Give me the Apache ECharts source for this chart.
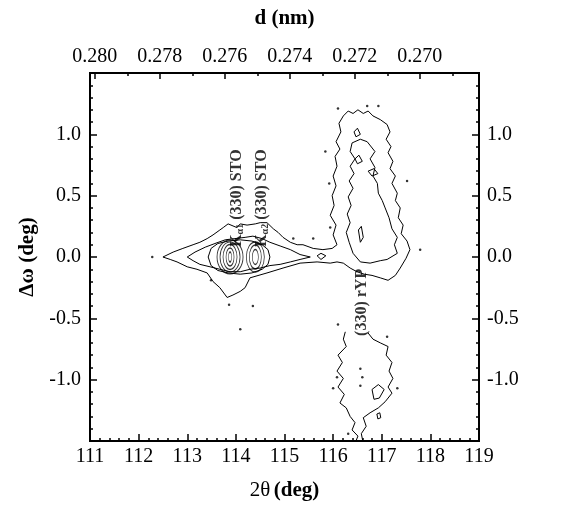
<!DOCTYPE html>
<html>
<head>
<meta charset="utf-8">
<script src="https://cdn.jsdelivr.net/npm/echarts@6/dist/echarts.min.js"></script>
<style>
  html, body { margin: 0; background: #fff; }
  #chart { width: 561px; height: 506px; }
</style>
</head>
<body>
<div id="chart"></div>
<script>
// axes
var twoThetaRange = [111, 119];
var dRange = [0.26818, 0.28015]; // top axis, runs the other way
var omegaRange = [-1.5, 1.5];
var dTicks = [0.280, 0.278, 0.276, 0.274, 0.272, 0.270];
var dMinorTicks = [0.279, 0.277, 0.275, 0.273, 0.271, 0.269];

// contour lines, [2theta, d-omega]
var outerContour = [
  [112.50, 0.00], [112.71, 0.04], [112.91, 0.07], [113.12, 0.10], [113.26, 0.12],
  [113.41, 0.15], [113.53, 0.18], [113.67, 0.22], [113.74, 0.24], [113.84, 0.27],
  [114.02, 0.24], [114.09, 0.27], [114.23, 0.26], [114.40, 0.27], [114.50, 0.28],
  [114.64, 0.28], [114.77, 0.23], [114.87, 0.20], [114.97, 0.16], [115.12, 0.12],
  [115.26, 0.10], [115.38, 0.10], [115.59, 0.07], [115.79, 0.06], [115.98, 0.07],
  [116.08, 0.10], [116.00, 0.18], [116.06, 0.26], [115.94, 0.34], [116.02, 0.42],
  [115.98, 0.50], [116.06, 0.58], [116.00, 0.66], [116.08, 0.74], [116.04, 0.82],
  [116.14, 0.88], [116.06, 0.94], [116.16, 1.02], [116.12, 1.09], [116.21, 1.15],
  [116.31, 1.19], [116.41, 1.17], [116.51, 1.20], [116.62, 1.17], [116.72, 1.19],
  [116.82, 1.15], [116.97, 1.12], [117.11, 1.08], [117.17, 1.02], [117.09, 0.96],
  [117.19, 0.90], [117.13, 0.85], [117.23, 0.78], [117.17, 0.72], [117.28, 0.66],
  [117.21, 0.60], [117.32, 0.52], [117.28, 0.46], [117.38, 0.40], [117.34, 0.32],
  [117.44, 0.26], [117.40, 0.19], [117.52, 0.13], [117.58, 0.06], [117.50, -0.01],
  [117.38, -0.09], [117.28, -0.15], [117.13, -0.19], [116.97, -0.17], [116.80, -0.15],
  [116.64, -0.14], [116.49, -0.12], [116.35, -0.09], [116.21, -0.05], [116.08, -0.04],
  [115.94, -0.05], [115.67, -0.04], [115.32, -0.05], [114.97, -0.09], [114.64, -0.13],
  [114.29, -0.17], [114.19, -0.25], [114.09, -0.28], [113.94, -0.31], [113.82, -0.33],
  [113.67, -0.25], [113.53, -0.20], [113.41, -0.13], [113.20, -0.10], [113.00, -0.08],
  [112.79, -0.04], [112.65, -0.02], [112.50, 0.00]
];
var stoLens = [
  [113.00, 0.00], [113.16, 0.04], [113.37, 0.08], [113.57, 0.11], [113.78, 0.14],
  [113.98, 0.15], [114.19, 0.16], [114.35, 0.17], [114.54, 0.15], [114.70, 0.12],
  [114.91, 0.09], [115.12, 0.06], [115.32, 0.02], [115.53, 0.00], [115.32, -0.02],
  [115.12, -0.04], [114.91, -0.06], [114.70, -0.07], [114.50, -0.09], [114.29, -0.10],
  [114.09, -0.12], [113.88, -0.12], [113.67, -0.10], [113.47, -0.08], [113.26, -0.06],
  [113.12, -0.03], [113.00, 0.00]
];
var stoEnvelope = [
  [113.43, 0.00], [113.49, 0.07], [113.63, 0.11], [113.84, 0.13], [114.09, 0.14],
  [114.33, 0.13], [114.54, 0.10], [114.66, 0.06], [114.70, 0.00], [114.66, -0.06],
  [114.54, -0.10], [114.33, -0.13], [114.09, -0.14], [113.84, -0.13], [113.63, -0.11],
  [113.49, -0.07], [113.43, 0.00]
];
var rypUpperInner = [
  [116.39, 0.93], [116.35, 0.86], [116.45, 0.80], [116.35, 0.74], [116.43, 0.68],
  [116.33, 0.62], [116.41, 0.56], [116.31, 0.49], [116.37, 0.42], [116.29, 0.35],
  [116.35, 0.28], [116.27, 0.20], [116.33, 0.12], [116.41, 0.03], [116.56, -0.04],
  [116.76, -0.05], [116.97, -0.03], [117.11, -0.02], [117.32, 0.03], [117.26, 0.10],
  [117.32, 0.16], [117.21, 0.23], [117.15, 0.32], [117.07, 0.40], [117.01, 0.46],
  [116.93, 0.52], [116.91, 0.60], [116.82, 0.66], [116.86, 0.73], [116.76, 0.80],
  [116.86, 0.86], [116.70, 0.94], [116.56, 0.96], [116.39, 0.93]
];
var rypLower = [
  [116.25, -0.61], [116.21, -0.67], [116.27, -0.73], [116.10, -0.80], [116.19, -0.86],
  [116.08, -0.93], [116.21, -0.99], [116.10, -1.06], [116.23, -1.12], [116.14, -1.19],
  [116.27, -1.23], [116.35, -1.30], [116.45, -1.35], [116.39, -1.41], [116.51, -1.46],
  [116.45, -1.52], [116.62, -1.52], [116.58, -1.44], [116.68, -1.38], [116.62, -1.31],
  [116.76, -1.27], [116.93, -1.23], [117.07, -1.18], [117.21, -1.11], [117.13, -1.06],
  [117.23, -0.99], [117.15, -0.93], [117.21, -0.86], [117.09, -0.80], [117.13, -0.73],
  [116.97, -0.70], [116.82, -0.67], [116.72, -0.62]
];
var islands = [
  [[115.67, 0.01], [115.75, 0.03], [115.85, 0.01], [115.75, -0.02], [115.67, 0.01]],
  [[116.43, 1.02], [116.50, 1.05], [116.56, 1.00], [116.47, 0.98], [116.43, 1.02]],
  [[116.45, 0.80], [116.53, 0.83], [116.60, 0.78], [116.50, 0.76], [116.45, 0.80]],
  [[116.72, 0.70], [116.84, 0.72], [116.92, 0.68], [116.80, 0.66], [116.72, 0.70]],
  [[116.52, 0.22], [116.58, 0.25], [116.62, 0.16], [116.56, 0.12], [116.52, 0.22]],
  [[116.80, -1.08], [116.93, -1.04], [117.05, -1.08], [116.95, -1.15], [116.84, -1.16], [116.80, -1.08]],
  [[116.90, -1.28], [116.96, -1.27], [116.98, -1.31], [116.92, -1.32], [116.90, -1.28]]
];
// STO K-alpha1 / K-alpha2 peak centres (closed rings drawn round them)
var peakCentres = [[113.88, 0.0], [114.40, 0.0]];
var noiseDots = [
  [112.28, 0.00], [113.86, -0.39], [114.35, -0.40], [113.49, -0.19], [115.18, 0.15],
  [115.59, 0.15], [115.92, 0.60], [116.10, 1.21], [116.70, 1.23], [116.93, 1.23],
  [115.84, 0.86], [115.94, 0.24], [117.52, 0.62], [117.79, 0.06], [116.10, -0.55],
  [117.11, -0.65], [116.08, -0.98], [116.56, -0.91], [116.60, -0.98], [116.56, -1.05],
  [117.32, -1.07], [116.00, -1.07], [116.31, -1.44], [114.09, -0.59]
];
var annotations = [
  { text: '{b|K}{s|α1}{b| (330) STO}', at: [114.02, 0.48] },
  { text: '{b|K}{s|α2}{b| (330) STO}', at: [114.54, 0.48] },
  { text: '{b|(330) rYP}', at: [116.60, -0.37] }
];

var serif = 'Liberation Serif';
var ringSizes = [[[26, 34], [20, 30], [14, 25], [8, 18], [3, 10]], [[18, 30], [12, 24], [6, 15]]];

var lineStyle = { color: '#000', width: 1 };
var series = [];
[outerContour, stoLens, stoEnvelope, rypUpperInner, rypLower].concat(islands).forEach(function (c) {
  series.push({
    type: 'line', data: c, symbol: 'none', lineStyle: lineStyle,
    silent: true, clip: true, z: 3
  });
});

var rings = [];
peakCentres.forEach(function (p, i) {
  ringSizes[i].forEach(function (s) {
    rings.push({ value: p, symbolSize: s });
  });
});
series.push({
  type: 'scatter', data: rings, symbol: 'circle', silent: true, z: 4,
  itemStyle: { color: 'rgba(0,0,0,0)', borderColor: '#000', borderWidth: 1 }
});
series.push({
  type: 'scatter', data: noiseDots, symbol: 'circle', symbolSize: 2.5, silent: true,
  itemStyle: { color: '#000' }
});
series.push({
  type: 'scatter', symbolSize: 0, silent: true, z: 5,
  data: annotations.map(function (a) { return { value: a.at, name: a.text }; }),
  label: {
    show: true, position: 'inside', rotate: 90, color: '#000',
    formatter: function (p) { return p.name; },
    rich: {
      b: { fontFamily: serif, fontWeight: 'bold', fontSize: 16, lineHeight: 17, color: '#000' },
      s: { fontFamily: serif, fontWeight: 'bold', fontSize: 10, lineHeight: 10, verticalAlign: 'bottom', color: '#000' }
    }
  }
});

var tickLabel = { fontFamily: serif, fontSize: 20, color: '#000' };
var black = { color: '#000', width: 2 };
var tickStyle = { color: '#000', width: 1.5 };

var chart = echarts.init(document.getElementById('chart'));
chart.setOption({
  animation: false,
  backgroundColor: '#fff',
  grid: { left: 90, right: 82, top: 73, bottom: 63, show: true, borderColor: '#000', borderWidth: 2 },
  xAxis: [
    {
      type: 'value', position: 'bottom', min: twoThetaRange[0], max: twoThetaRange[1], interval: 1,
      name: '{a|2θ} {b|(deg)}', nameLocation: 'middle', nameGap: 39,
      nameTextStyle: { rich: {
        a: { fontFamily: serif, fontSize: 21, color: '#000' },
        b: { fontFamily: serif, fontSize: 21, fontWeight: 'bold', color: '#000' }
      } },
      axisLine: { onZero: false, lineStyle: black },
      axisTick: { inside: true, length: 7, lineStyle: tickStyle },
      minorTick: { show: true, splitNumber: 5, length: 3, lineStyle: tickStyle },
      axisLabel: Object.assign({ margin: 6 }, tickLabel),
      splitLine: { show: false }
    },
    {
      type: 'value', position: 'top', inverse: true, min: dRange[0], max: dRange[1],
      name: 'd (nm)', nameLocation: 'middle', nameGap: 44,
      nameTextStyle: { fontFamily: serif, fontSize: 21, fontWeight: 'bold', color: '#000' },
      axisLine: { onZero: false, lineStyle: black },
      axisTick: { inside: true, length: 6, customValues: dTicks, lineStyle: tickStyle },
      axisLabel: Object.assign({
        margin: 6, customValues: dTicks,
        formatter: function (v) { return v.toFixed(3); }
      }, tickLabel),
      splitLine: { show: false }
    },
    {
      type: 'value', position: 'top', inverse: true, min: dRange[0], max: dRange[1],
      axisLine: { show: false, onZero: false },
      axisTick: { inside: true, length: 3, customValues: dMinorTicks, lineStyle: tickStyle },
      axisLabel: { show: false },
      splitLine: { show: false }
    }
  ],
  yAxis: [
    {
      type: 'value', position: 'left', min: omegaRange[0], max: omegaRange[1], interval: 0.5,
      name: 'Δω (deg)', nameLocation: 'middle', nameGap: 52,
      nameTextStyle: { fontFamily: serif, fontSize: 21, fontWeight: 'bold', color: '#000' },
      axisLine: { onZero: false, lineStyle: black },
      axisTick: { inside: true, length: 7, lineStyle: tickStyle },
      minorTick: { show: true, splitNumber: 5, length: 3, lineStyle: tickStyle },
      axisLabel: Object.assign({
        margin: 9, showMinLabel: false, showMaxLabel: false,
        formatter: function (v) { return v.toFixed(1); }
      }, tickLabel),
      splitLine: { show: false }
    },
    {
      type: 'value', position: 'right', min: omegaRange[0], max: omegaRange[1], interval: 0.5,
      axisLine: { onZero: false, lineStyle: black },
      axisTick: { inside: true, length: 7, lineStyle: tickStyle },
      minorTick: { show: true, splitNumber: 5, length: 3, lineStyle: tickStyle },
      axisLabel: Object.assign({
        margin: 8, showMinLabel: false, showMaxLabel: false,
        formatter: function (v) { return v.toFixed(1); }
      }, tickLabel),
      splitLine: { show: false }
    }
  ],
  series: series
});
</script>
</body>
</html>
